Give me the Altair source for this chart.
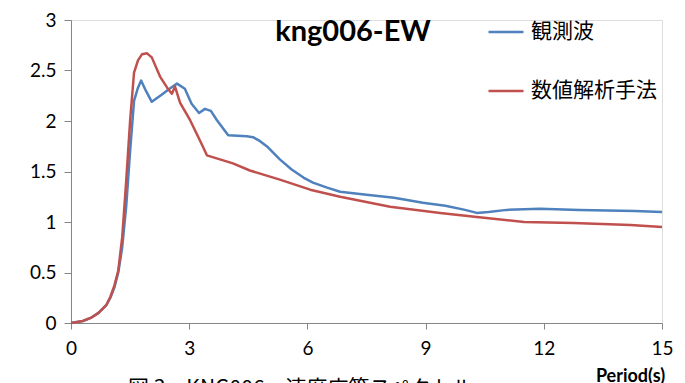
import altair as alt
import pandas as pd

# 観測波 (observed)
obs_period = [0, 0.3, 0.5, 0.7, 0.9, 1.0, 1.1, 1.2, 1.3, 1.4, 1.5, 1.6, 1.7, 1.78, 1.9, 2.05, 2.3, 2.5, 2.69, 2.89, 3.06, 3.25, 3.4, 3.55, 3.7, 3.99, 4.46, 4.62, 4.8, 5.0, 5.3, 5.6, 5.9, 6.14, 6.5, 6.83, 7.5, 8.2, 8.93, 9.5, 10.0, 10.3, 10.6, 11.06, 11.9, 12.9, 14.3, 15.0]
obs_value = [0, 0.02, 0.05, 0.1, 0.18, 0.25, 0.35, 0.5, 0.75, 1.15, 1.7, 2.2, 2.33, 2.40, 2.3, 2.19, 2.26, 2.32, 2.37, 2.32, 2.17, 2.08, 2.12, 2.10, 2.01, 1.86, 1.85, 1.84, 1.80, 1.74, 1.62, 1.52, 1.44, 1.39, 1.34, 1.30, 1.27, 1.24, 1.19, 1.16, 1.12, 1.09, 1.10, 1.12, 1.13, 1.12, 1.11, 1.10]

# 数値解析手法 (numerical analysis)
sim_period = [0, 0.3, 0.5, 0.7, 0.9, 1.0, 1.1, 1.2, 1.3, 1.4, 1.5, 1.6, 1.7, 1.8, 1.93, 2.05, 2.26, 2.44, 2.56, 2.64, 2.77, 3.02, 3.27, 3.45, 4.11, 4.54, 5.3, 6.07, 6.83, 8.1, 9.37, 10.3, 11.5, 12.75, 14.2, 15.0]
sim_value = [0, 0.02, 0.05, 0.1, 0.18, 0.26, 0.37, 0.52, 0.85, 1.4, 2.0, 2.48, 2.6, 2.66, 2.67, 2.63, 2.44, 2.33, 2.27, 2.34, 2.18, 2.01, 1.81, 1.66, 1.58, 1.51, 1.42, 1.32, 1.25, 1.15, 1.09, 1.05, 1.00, 0.99, 0.97, 0.95]

series_names = ["観測波", "数値解析手法"]
series_colors = ["#4F81BD", "#C0504D"]

df = pd.concat([
    pd.DataFrame({"period": obs_period, "value": obs_value, "series": series_names[0], "order": range(len(obs_period))}),
    pd.DataFrame({"period": sim_period, "value": sim_value, "series": series_names[1], "order": range(len(sim_period))}),
])

axis_color = "#868686"
label_font = "Lato"

lines = alt.Chart(df).mark_line(strokeWidth=2.5, interpolate="linear", strokeJoin="round").encode(
    x=alt.X("period:Q",
            scale=alt.Scale(domain=[0, 15], nice=False, zero=False),
            axis=alt.Axis(values=[0, 3, 6, 9, 12, 15], title="Period(s)", grid=False,
                          domainColor=axis_color, tickColor=axis_color, tickSize=6,
                          labelFont=label_font, labelFontSize=19, labelColor="#000000",
                          labelPadding=10, labelFlush=False, labelOverlap=False,
                          titleFont=label_font, titleFontSize=18, titleFontWeight="bold",
                          titleColor="#000000", titleAnchor="end", titleAlign="center",
                          titleBaseline="alphabetic", titleX=559, titleY=58)),
    y=alt.Y("value:Q",
            scale=alt.Scale(domain=[0, 3], nice=False),
            axis=alt.Axis(values=[0, 0.5, 1, 1.5, 2, 2.5, 3], format="~g", title=None, grid=False,
                          domainColor=axis_color, tickColor=axis_color, tickSize=7,
                          labelFont=label_font, labelFontSize=19, labelColor="#000000",
                          labelPadding=8, labelFlush=False, labelOverlap=False)),
    color=alt.Color("series:N",
                    scale=alt.Scale(domain=series_names, range=series_colors),
                    legend=alt.Legend(orient="none", legendX=416, legendY=-7, title=None,
                                      symbolType="stroke", symbolStrokeWidth=2.5,
                                      symbolSize=1225, rowPadding=30,
                                      labelFont="Noto Sans CJK JP", labelFontSize=21,
                                      labelColor="#000000", labelOffset=6,
                                      labelLimit=300)),
    order="order:Q",
)

title = alt.Chart(pd.DataFrame({"t": ["kng006-EW"]})).mark_text(
    font=label_font, fontSize=29, fontWeight="bold", color="#000000",
    align="center", baseline="middle",
).encode(x=alt.value(282), y=alt.value(12), text="t:N")

caption = alt.Chart(pd.DataFrame({"t": ["図 3　KNG006　速度応答スペクトル"]})).mark_text(
    font="Noto Sans CJK JP", fontSize=21, color="#000000",
    align="left", baseline="top",
).encode(x=alt.value(57), y=alt.value(358), text="t:N")

chart = alt.layer(lines, title, caption).properties(
    width=591, height=303,
    autosize=alt.AutoSizeParams(type="none"),
    padding={"left": 71, "top": 20, "right": 23, "bottom": 60},
).configure_view(stroke=None).configure(background="#ffffff")

chart.save("out.html", embed_options={"renderer": "svg", "actions": False})
